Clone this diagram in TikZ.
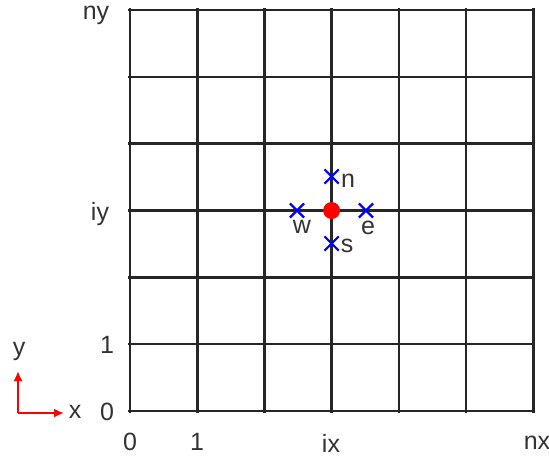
\documentclass[tikz,border=0pt]{standalone}
\usepackage{fontspec}
\setmainfont{Liberation Sans}
\usetikzlibrary{shapes.misc,arrows.meta}
\begin{document}
\begin{tikzpicture}[x=1pt,y=-1pt,
  gridline/.style={line width=2.6pt,black!85},
  lbl/.style={font=\fontsize{25}{25}\selectfont,inner sep=0pt,text=black!80},
  xmark/.style={cross out,draw=blue,line width=2.2pt,minimum size=12pt,inner sep=0pt},
  dot/.style={circle,fill=red,minimum size=17pt,inner sep=0pt},
  axisarrow/.style={red,line width=1.8pt,-{Latex[length=10pt,width=9pt]}}]
\useasboundingbox (0,0) rectangle (549,466);
% grid
\foreach \i in {0,...,6} {
  \draw[gridline] (130+67.2*\i,8) -- (130+67.2*\i,413);
  \draw[gridline] (128,10+66.83*\i) -- (535,10+66.83*\i);
}
% centre point and neighbours
\node[dot] (P) at (331.6,210.5) {};
\node[xmark] (N) at (331.6,176.5) {};
\node[xmark] (S) at (331.6,243.5) {};
\node[xmark] (W) at (297,210.5) {};
\node[xmark] (E) at (366,210.5) {};
\node[lbl] (nl) at (348,181) {n};
\node[lbl] (sl) at (347,246) {s};
\node[lbl] (wl) at (302,227) {w};
\node[lbl] (el) at (368,228) {e};
% axis labels
\node[lbl] (ny) at (96,15) {ny};
\node[lbl] (iy) at (100,214) {iy};
\node[lbl] (y1) at (107,345) {1};
\node[lbl] (y0) at (107,412) {0};
\node[lbl] (x0) at (130,442) {0};
\node[lbl] (x1) at (197,442) {1};
\node[lbl] (ix) at (331,443) {ix};
\node[lbl] (nx) at (537,443) {nx};
% coordinate axes
\coordinate (O) at (18,413);
\node[lbl] (xa) at (75,412) {x};
\node[lbl] (ya) at (19,351) {y};
\draw[axisarrow] (O) -- (64,413);
\draw[axisarrow] (O) -- (18,371);
\end{tikzpicture}
\end{document}
